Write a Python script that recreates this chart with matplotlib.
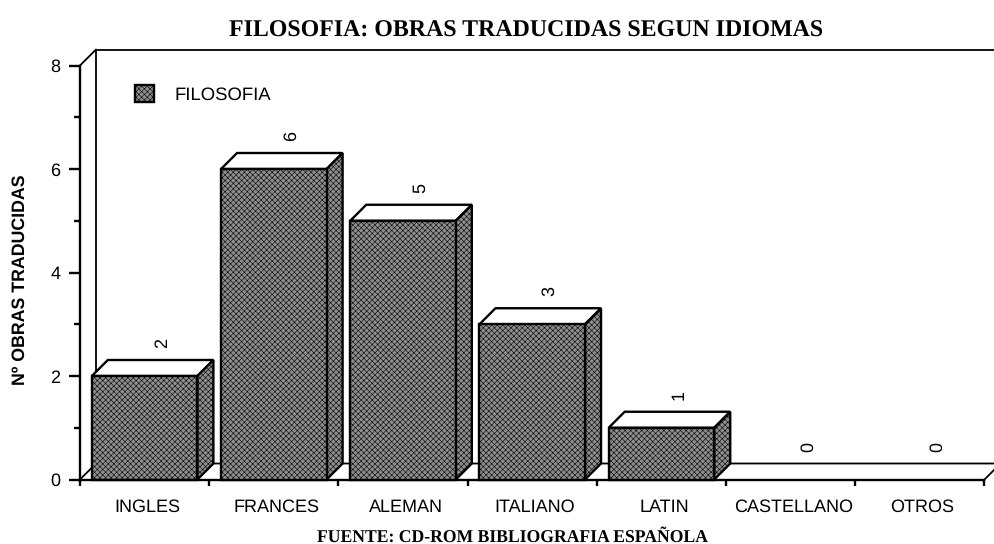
import matplotlib
matplotlib.use('Agg')
import matplotlib.pyplot as plt
from matplotlib.patches import Polygon
import numpy as np

idiomas = ['INGLES', 'FRANCES', 'ALEMAN', 'ITALIANO', 'LATIN', 'CASTELLANO', 'OTROS']
obras = [2, 6, 5, 3, 1, 0, 0]

plt.rcParams['font.family'] = ['Liberation Sans', 'DejaVu Sans']
plt.rcParams['hatch.linewidth'] = 0.4
plt.rcParams['hatch.color'] = '#6a6a6a'
plt.rcParams['text.hinting'] = 'none'

W, H = 994, 544
fig = plt.figure(figsize=(W / 100, H / 100), dpi=100)
ax = fig.add_axes([80 / W, (H - 479.5) / H, 904.5 / W, 414 / H])
ax.set_xlim(0, 7)
ax.set_ylim(0, 8)

# depth of the fake 3d, in data units
dx = 16 / (904.5 / 7)
dy = 16 / (414 / 8)
bar_w = 0.817
gris = '#8e8e8e'
trama = '//////\\\\\\\\\\\\'
lw = 1.7

# back walls and floor
ax.plot([0, dx, dx], [8, 8 + dy, dy], color='k', lw=1.3, clip_on=False, zorder=1)
ax.plot([dx, 7 + dx], [8 + dy, 8 + dy], color='k', lw=1.3, clip_on=False, zorder=1)
ax.plot([0, dx, 7 + dx], [0, dy, dy], color='k', lw=1.3, clip_on=False, zorder=1)
ax.plot([7, 7 + dx], [0, dy], color='k', lw=1.3, clip_on=False, zorder=1)

x = np.arange(len(idiomas)) + 0.5
barras = None
for i, v in enumerate(obras):
    if v == 0:
        continue
    l = x[i] - bar_w / 2
    r = x[i] + bar_w / 2
    top = Polygon([(l, v), (l + dx, v + dy), (r + dx, v + dy), (r, v)],
                  facecolor='white', edgecolor='k', lw=lw, zorder=2 + i)
    side = Polygon([(r, 0), (r + dx, dy), (r + dx, v + dy), (r, v)],
                   facecolor=gris, edgecolor='k', hatch=trama, lw=lw, zorder=2 + i)
    ax.add_patch(top)
    ax.add_patch(side)
    barras = ax.bar(x[i], v, bar_w, facecolor=gris, edgecolor='k', hatch=trama,
                    lw=lw, zorder=2 + i, clip_on=False)

for i, v in enumerate(obras):
    ax.text(x[i] + dx * 1.1, v + 33 / (414 / 8), str(v), rotation=90, ha='center', va='center',
            fontsize=13, zorder=20)

ax.legend([barras[0]], ['FILOSOFIA'], loc='upper left', bbox_to_anchor=(51.5 / 904.5, 1 - 16 / 414),
          frameon=False, fontsize=13.3, handlelength=1.0, handleheight=1.05, handletextpad=1.15,
          borderpad=0.2, borderaxespad=0)

for s in ['top', 'right']:
    ax.spines[s].set_visible(False)
for s in ['left', 'bottom']:
    ax.spines[s].set_linewidth(lw)

ax.set_yticks(range(0, 9, 2))
ax.set_yticks(range(1, 9, 2), minor=True)
ax.tick_params(axis='y', which='major', length=8, width=lw, labelsize=13, pad=6)
ax.tick_params(axis='y', which='minor', length=4, width=lw)
ax.set_xticks(range(8))
ax.set_xticklabels([])
ax.set_xticks(x + 0.02, minor=True)
ax.set_xticklabels(idiomas, minor=True, fontsize=13)
ax.tick_params(axis='x', which='major', length=4, width=lw)
ax.tick_params(axis='x', which='minor', length=0, pad=14)

fig.text(20 / W, 1 - 280 / H, 'Nº OBRAS TRADUCIDAS', rotation=90, ha='center', va='center',
         fontsize=12.8, fontweight='bold')
fig.text(526.5 / W, 1 - 31 / H, 'FILOSOFIA: OBRAS TRADUCIDAS SEGUN IDIOMAS', ha='center', va='center',
         fontsize=17.2, fontweight='bold', family=['Liberation Serif'])
fig.text(512 / W, 1 - 537 / H, 'FUENTE: CD-ROM BIBLIOGRAFIA ESPAÑOLA', ha='center', va='center',
         fontsize=12.7, fontweight='bold', family=['Liberation Serif'])

fig.savefig('out.png', dpi=100)
